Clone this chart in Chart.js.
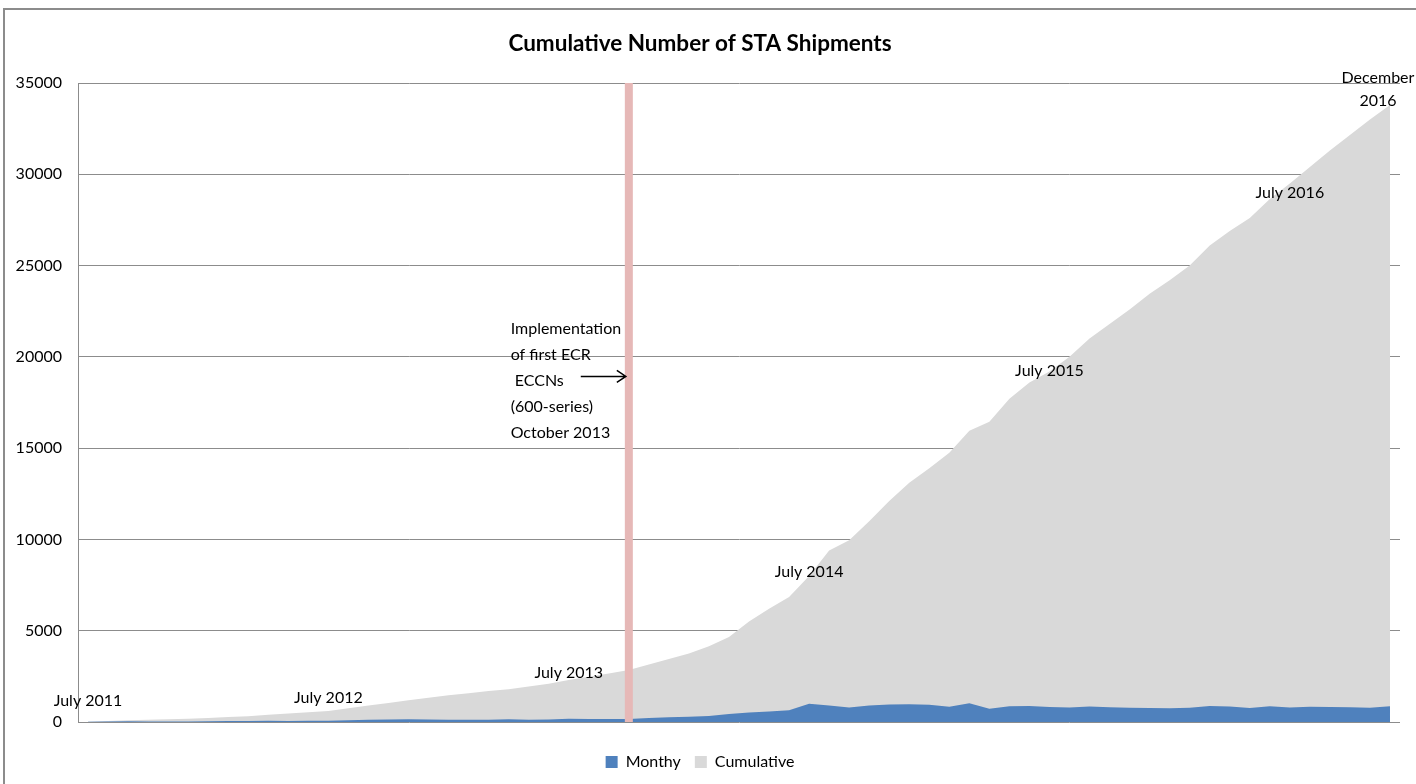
<!DOCTYPE html>
<html>
<head>
<meta charset="utf-8">
<script src="https://cdn.jsdelivr.net/npm/chart.js@4.4.0/dist/chart.umd.min.js"></script>
<style>
  html, body { margin: 0; padding: 0; background: #fff; }
  #wrap { width: 1416px; height: 784px; position: relative; }
</style>
</head>
<body>
<div id="wrap"><canvas id="myChart" width="1416" height="784"></canvas></div>
<script>
const months = [
  "Jul 2011", "Aug 2011", "Sep 2011", "Oct 2011", "Nov 2011", "Dec 2011",
  "Jan 2012", "Feb 2012", "Mar 2012", "Apr 2012", "May 2012", "Jun 2012",
  "Jul 2012", "Aug 2012", "Sep 2012", "Oct 2012", "Nov 2012", "Dec 2012",
  "Jan 2013", "Feb 2013", "Mar 2013", "Apr 2013", "May 2013", "Jun 2013",
  "Jul 2013", "Aug 2013", "Sep 2013", "Oct 2013", "Nov 2013", "Dec 2013",
  "Jan 2014", "Feb 2014", "Mar 2014", "Apr 2014", "May 2014", "Jun 2014",
  "Jul 2014", "Aug 2014", "Sep 2014", "Oct 2014", "Nov 2014", "Dec 2014",
  "Jan 2015", "Feb 2015", "Mar 2015", "Apr 2015", "May 2015", "Jun 2015",
  "Jul 2015", "Aug 2015", "Sep 2015", "Oct 2015", "Nov 2015", "Dec 2015",
  "Jan 2016", "Feb 2016", "Mar 2016", "Apr 2016", "May 2016", "Jun 2016",
  "Jul 2016", "Aug 2016", "Sep 2016", "Oct 2016", "Nov 2016", "Dec 2016"
];

const monthly = [
  20, 30, 40, 30, 30, 30, 40, 50, 60, 70, 60, 70,
  70, 100, 130, 140, 150, 140, 130, 120, 120, 150, 120, 140,
  180, 170, 160, 170, 220, 260, 290, 330, 440, 520, 580, 650,
  1000, 900, 790, 900, 960, 970, 950, 830, 1030, 720, 860, 870,
  820, 790, 850, 810, 780, 770, 750, 780, 870, 850, 760, 860,
  790, 830, 820, 810, 780, 860
];

const cumulative = [
  20, 50, 90, 120, 150, 180, 220, 270, 320, 400, 460, 530,
  600, 750, 900, 1040, 1190, 1330, 1470, 1580, 1700, 1800, 1950, 2100,
  2300, 2480, 2650, 2850, 3150, 3450, 3750, 4150, 4650, 5500, 6200, 6850,
  8000, 9400, 9950, 11000, 12100, 13100, 13900, 14750, 15950, 16450, 17700, 18600,
  19200, 20000, 21000, 21800, 22600, 23450, 24200, 25000, 26100, 26900, 27600, 28650,
  29500, 30400, 31300, 32150, 33000, 33800
];

const yTicks = [0, 5000, 10000, 15000, 20000, 25000, 30000, 35000];

// month labels written on the chart: [text lines, category index, value]
const notes = [
  [["July 2011"], 0, 1150],
  [["July 2012"], 12, 1300],
  [["July 2013"], 24, 2700],
  [["July 2014"], 36, 8230],
  [["July 2015"], 48, 19250],
  [["July 2016"], 60, 29000],
  [["December", "2016"], 64.4, 35300]
];

const eventIndex = 27; // October 2013
const eventText = ["Implementation", "of first ECR", " ECCNs", "(600-series)", "October 2013"];

const FONT = "Lato, 'Open Sans', sans-serif";

const overlay = {
  id: "overlay",
  afterDatasetsDraw(chart) {
    const { ctx, scales: { x, y }, chartArea } = chart;
    ctx.save();

    // event line
    const ex = x.getPixelForValue(eventIndex);
    ctx.fillStyle = "#e6b8b7";
    ctx.fillRect(ex - 4, chartArea.top, 8, chartArea.bottom - chartArea.top);

    ctx.fillStyle = "#000";
    ctx.textBaseline = "middle";
    ctx.font = "16px " + FONT;

    ctx.textAlign = "center";
    notes.forEach(function (n) {
      const px = x.getPixelForValue(n[1]);
      const py = y.getPixelForValue(n[2]);
      n[0].forEach(function (line, i) {
        ctx.fillText(line, px, py + i * 23);
      });
    });

    // callout text left of the event line
    ctx.textAlign = "left";
    const tx = x.getPixelForValue(eventIndex - 5.9);
    const ty = y.getPixelForValue(21560);
    eventText.forEach(function (line, i) {
      ctx.fillText(line, tx, ty + i * 26);
    });

    // arrow
    const ay = y.getPixelForValue(18930);
    const ax0 = x.getPixelForValue(eventIndex - 2.4);
    const ax1 = ex - 3;
    ctx.strokeStyle = "#000";
    ctx.lineWidth = 1.5;
    ctx.beginPath();
    ctx.moveTo(ax0, ay);
    ctx.lineTo(ax1, ay);
    ctx.moveTo(ax1 - 9, ay - 6);
    ctx.lineTo(ax1, ay);
    ctx.lineTo(ax1 - 9, ay + 6);
    ctx.stroke();

    ctx.restore();
  },
  afterDraw(chart) {
    const ctx = chart.ctx;
    ctx.save();
    ctx.strokeStyle = "#8c8c8c";
    ctx.lineWidth = 2;
    ctx.strokeRect(4, 9, 1500, 900);
    ctx.restore();
  }
};

const ctx = document.getElementById("myChart").getContext("2d");

const myChart = new Chart(ctx, {
  type: "line",
  data: {
    labels: months,
    datasets: [
      {
        label: "Monthy",
        data: monthly,
        backgroundColor: "#4f81bd",
        borderColor: "#4f81bd",
        borderWidth: 0,
        pointRadius: 0,
        fill: "origin",
        tension: 0
      },
      {
        label: "Cumulative",
        data: cumulative,
        backgroundColor: "#d9d9d9",
        borderColor: "#d9d9d9",
        borderWidth: 0,
        pointRadius: 0,
        fill: "origin",
        tension: 0
      }
    ]
  },
  plugins: [overlay],
  options: {
    responsive: false,
    animation: false,
    layout: {
      padding: { top: 20, right: 16, bottom: 4, left: 0 }
    },
    scales: {
      x: {
        offset: true,
        grid: { display: false },
        border: { display: false },
        ticks: { display: false },
        afterFit(scale) { scale.height = 18; }
      },
      y: {
        min: 0,
        max: 35000,
        afterBuildTicks(scale) {
          scale.ticks = yTicks.map(function (v) { return { value: v }; });
        },
        grid: {
          color: "#8c8c8c",
          lineWidth: 1,
          drawTicks: false
        },
        border: { display: true, color: "#8c8c8c", width: 1 },
        ticks: {
          padding: 16,
          color: "#000",
          font: { family: FONT, size: 16 },
          callback: function (v) { return String(v); }
        },
        afterFit(scale) { scale.width = 78; }
      }
    },
    plugins: {
      title: {
        display: true,
        text: "Cumulative Number of STA Shipments",
        color: "#000",
        font: { family: FONT, size: 22.5, weight: "bold" },
        padding: { top: 10, bottom: 26 }
      },
      legend: {
        position: "bottom",
        labels: {
          color: "#000",
          font: { family: FONT, size: 16 },
          boxWidth: 12,
          boxHeight: 12,
          padding: 14
        }
      },
      tooltip: { enabled: false }
    }
  }
});
</script>
</body>
</html>
